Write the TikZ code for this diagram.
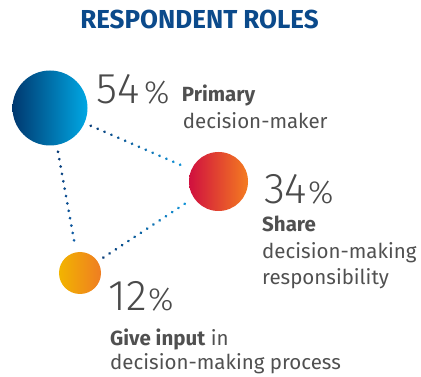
\documentclass[tikz,border=0pt]{standalone}
\usepackage{fontspec}
\setmainfont{Fira Sans}
\newfontfamily\lightfont{Fira Sans Light}
\usetikzlibrary{decorations.markings}
\definecolor{titleblue}{HTML}{0B4A8B}
\definecolor{txtgray}{HTML}{505050}
\definecolor{numgray}{HTML}{4A4A4A}
\definecolor{navyA}{HTML}{00386F}
\definecolor{cyanA}{HTML}{00A8E4}
\definecolor{crimB}{HTML}{D0103F}
\definecolor{orgB}{HTML}{F47C20}
\definecolor{yelC}{HTML}{F2B400}
\definecolor{orgC}{HTML}{EF7D22}
\definecolor{dotnavy}{HTML}{083C78}
\definecolor{dotlight}{HTML}{1296DA}
\definecolor{dotmid}{HTML}{0F5FA8}
\tikzset{
  bubble/.style={circle, draw=none, outer sep=7pt, inner sep=0pt},
  dotline/.style 2 args={postaction={decorate}, decoration={markings,
    mark=between positions 0 and 1 step 7.5pt with {%
      \pgfmathsetmacro\fr{100*\pgfkeysvalueof{/pgf/decoration/mark info/distance from start}/\pgfdecoratedpathlength}%
      \fill[#2!\fr!#1] (0,0) circle (1.5pt);}}},
  bignum/.style={anchor=base west, inner sep=0pt, text=numgray, font=\lightfont\fontsize{43}{43}\selectfont},
  pct/.style={anchor=base west, inner sep=0pt, text=numgray, font=\lightfont\fontsize{32}{32}\selectfont},
  lbl/.style={anchor=base west, inner sep=0pt, text=txtgray, font=\fontsize{20.5}{24}\selectfont},
  lblb/.style={lbl, font=\fontsize{20.5}{24}\selectfont\bfseries},
}
\begin{document}
\begin{tikzpicture}[x=1pt,y=-1pt]
\useasboundingbox (0,0) rectangle (421,377);
\node[anchor=base, inner sep=0pt, text=titleblue, font=\fontsize{26}{26}\selectfont\bfseries] (title) at (199.5,29) {RESPONDENT ROLES};
% bubbles
\node[bubble, minimum size=75pt, left color=navyA, right color=cyanA] (c1) at (50,108) {};
\node[bubble, minimum size=59pt, left color=crimB, right color=orgB] (c2) at (218.5,181.5) {};
\node[bubble, minimum size=42pt, left color=yelC, right color=orgC] (c3) at (80,273) {};
% connectors
\path[dotline={dotnavy}{dotlight}] (c1) -- (c2);
\path[dotline={dotnavy}{dotmid}] (c1) -- (c3);
\path[dotline={dotnavy}{dotlight}] (c3) -- (c2);
% texts
\node[bignum] (n1) at (96,103.3) {54};
\node[pct] (p1) at (144,103.3) {\%};
\node[lblb] (l1a) at (181.7,101.7) {Primary};
\node[lbl] (l1b) at (182.7,128.3) {decision-maker};
\node[bignum] (n2) at (264,203.3) {34};
\node[pct] (p2) at (308,203.3) {\%};
\node[lblb] (l2a) at (262,231.7) {Share};
\node[lbl] (l2b) at (262,258.3) {decision-making};
\node[lbl] (l2c) at (262,285) {responsibility};
\node[bignum] (n3) at (108.5,311) {12};
\node[pct] (p3) at (148,311) {\%};
\node[lbl] (l3a) at (110,345) {\textbf{Give input} in};
\node[lbl] (l3b) at (110,370) {decision-making process};
\end{tikzpicture}
\end{document}
